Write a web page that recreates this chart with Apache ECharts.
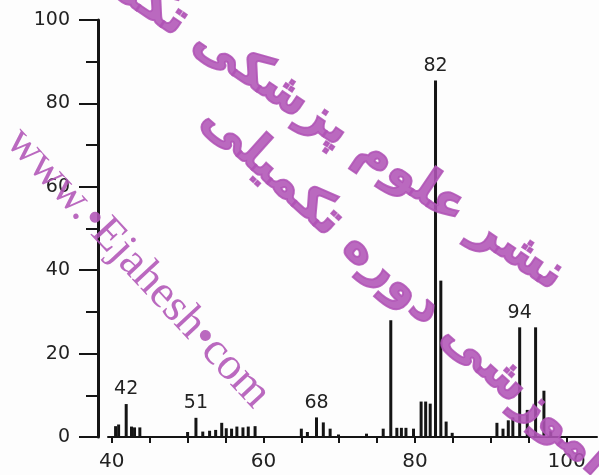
<!DOCTYPE html>
<html>
<head>
<meta charset="utf-8">
<script src="https://cdn.jsdelivr.net/npm/echarts@6/dist/echarts.min.js"></script>
<style>
  html, body { margin: 0; padding: 0; background: #fdfdfd; }
  #chart { width: 599px; height: 475px; }
</style>
</head>
<body>
<div id="chart"></div>
<script>
// m/z positions and relative intensity (%)
const mz = [
  40.5, 40.9, 41.9, 42.6, 43.0, 43.7,
  50.0, 51.1, 52.0, 52.9, 53.7, 54.5, 55.1, 55.8, 56.5, 57.3, 58.0, 58.9,
  65.0, 65.8, 67.0, 67.9, 68.8, 69.9, 73.6, 75.8,
  76.8, 77.6, 78.2, 78.8, 79.8, 80.8, 81.4, 82.0, 82.7, 83.4, 84.1, 84.9,
  90.8, 91.6, 92.3, 92.9, 93.8, 94.8, 95.9, 97.0, 97.9
]
const intensity = [
  2.6, 3.0, 7.9, 2.5, 2.3, 2.3,
  1.2, 4.6, 1.3, 1.5, 1.7, 3.4, 2.1, 2.0, 2.5, 2.3, 2.5, 2.6,
  2.0, 1.2, 4.7, 3.5, 2.0, 0.6, 0.8, 2.0,
  28.0, 2.2, 2.2, 2.2, 2.0, 8.5, 8.5, 8.0, 85.5, 37.5, 3.7, 1.0,
  3.4, 2.0, 4.0, 4.7, 26.3, 6.5, 26.3, 11.1, 1.4
]
// labelled peaks
const tagMz = [41.9, 51.1, 67.0, 82.7, 93.8]
const tagText = ['42', '51', '68', '82', '94']

const xLabels = [40, 60, 80, 100]
const xTicks = [40, 45, 50, 55, 60, 65, 70, 75, 80, 85, 90, 95, 100]

const ink = '#151515'
const mark = 'rgba(176, 84, 182, 0.88)'

const data = mz.map((m, i) => {
  const t = tagMz.indexOf(m)
  const item = { value: [m, intensity[i]] }
  if (t >= 0) {
    item.label = { show: true, formatter: tagText[t] }
  }
  return item
})

const chart = echarts.init(document.getElementById('chart'))
chart.setOption({
  animation: false,
  backgroundColor: '#fdfdfd',
  grid: { left: 108, right: 2, top: 20, bottom: 38 },
  xAxis: {
    type: 'value',
    min: 39.5,
    max: 104,
    splitLine: { show: false },
    axisLine: { lineStyle: { color: ink, width: 2 } },
    axisTick: { customValues: xTicks, length: 6, lineStyle: { color: ink, width: 2 } },
    axisLabel: {
      customValues: xLabels,
      margin: 15,
      fontSize: 20,
      fontFamily: 'DejaVu Sans',
      color: '#222'
    }
  },
  yAxis: {
    type: 'value',
    min: 0,
    max: 100,
    interval: 20,
    offset: 10,
    splitLine: { show: false },
    axisLine: { show: true, lineStyle: { color: ink, width: 3 } },
    axisTick: { length: 19, lineStyle: { color: ink, width: 2 } },
    minorTick: { show: true, splitNumber: 2, length: 12, lineStyle: { color: ink, width: 2 } },
    axisLabel: {
      margin: 28,
      fontSize: 19,
      fontFamily: 'DejaVu Sans',
      color: '#222'
    }
  },
  series: [{
    type: 'bar',
    barWidth: 3,
    itemStyle: { color: ink },
    label: {
      show: false,
      position: 'top',
      distance: 5,
      fontSize: 19,
      fontFamily: 'DejaVu Sans',
      color: '#222'
    },
    data: data
  }],
  // watermark overlay
  graphic: [
    {
      type: 'text', x: 138, y: 268, z: 100,
      rotation: -47 * Math.PI / 180,
      style: {
        text: 'www.•Ejahesh•com', fill: mark,
        font: '46px "Liberation Serif"', align: 'center', verticalAlign: 'middle'
      }
    },
    {
      type: 'text', x: 300, y: 105, z: 100,
      rotation: -34 * Math.PI / 180,
      style: {
        text: 'نشر علوم پزشکی تکمیلی', fill: mark, stroke: mark, lineWidth: 2,
        font: 'bold 50px "DejaVu Sans"', align: 'center', verticalAlign: 'middle'
      }
    },
    {
      type: 'text', x: 405, y: 290, z: 100,
      rotation: -42 * Math.PI / 180,
      style: {
        text: 'آموزشی دوره تکمیلی', fill: mark, stroke: mark, lineWidth: 2,
        font: 'bold 50px "DejaVu Sans"', align: 'center', verticalAlign: 'middle'
      }
    }
  ]
})
window.addEventListener('resize', function () {
  chart && chart.resize()
})
</script>
</body>
</html>
